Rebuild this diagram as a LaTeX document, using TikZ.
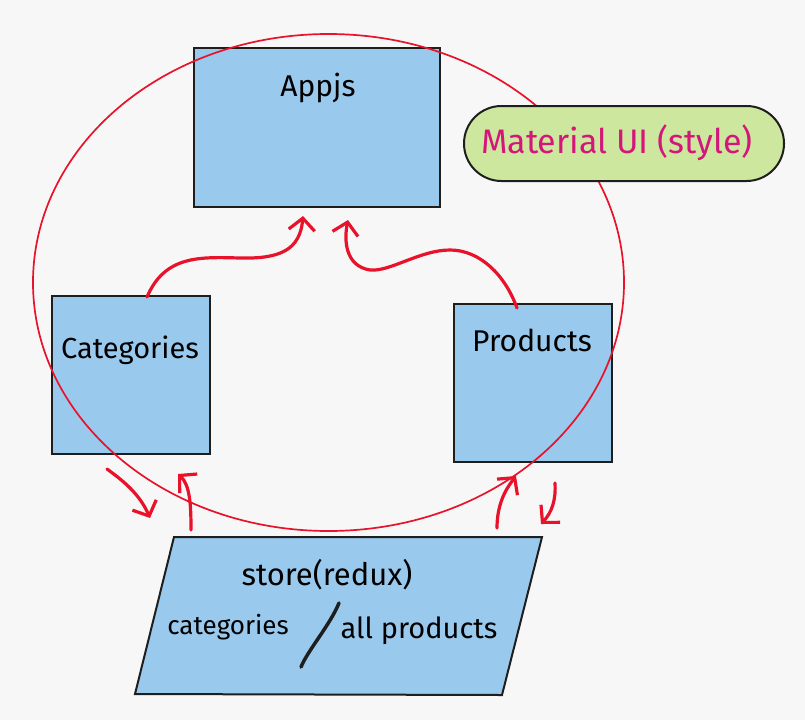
\documentclass[tikz,border=0pt]{standalone}
\usepackage{fontspec}
\setmainfont{Fira Sans}
\usetikzlibrary{arrows.meta,shapes.geometric,shapes.misc}
\definecolor{bg}{RGB}{247,247,247}
\definecolor{boxfill}{RGB}{154,201,238}
\definecolor{boxline}{RGB}{30,30,30}
\definecolor{redline}{RGB}{232,19,43}
\definecolor{pillfill}{RGB}{206,231,158}
\definecolor{magentatext}{RGB}{212,22,122}
\newcommand{\fsz}[1]{\fontsize{#1}{#1}\selectfont}
\tikzset{
  block/.style={draw=boxline, fill=boxfill, line width=2pt, rectangle, inner sep=0pt},
  lbl/.style={text=black, inner sep=0pt},
  flow/.style={draw=redline, line width=3.2pt, line cap=round,
    -{Straight Barb[length=12pt,width=26pt,line width=3.2pt]}},
}
\begin{document}
\begin{tikzpicture}[x=1pt,y=-1pt]
\useasboundingbox (0,0) rectangle (805,720);
\fill[bg] (0,0) rectangle (805,720);

% boxes
\node[block, minimum width=246pt, minimum height=159pt] (app) at (317,127.5) {};
\node[block, minimum width=158pt, minimum height=158pt] (cat) at (131,375) {};
\node[block, minimum width=158pt, minimum height=158pt] (prod) at (533,383) {};
\draw[draw=boxline, fill=boxfill, line width=2pt]
  (174,537) coordinate (s1) -- (542,537) coordinate (s2) -- (502,695) coordinate (s3) -- (135,694) coordinate (s4) -- cycle;

% big ellipse
\node[draw=redline, line width=1.7pt, ellipse, minimum width=591pt, minimum height=497pt, inner sep=0pt] (ring) at (328.5,282.5) {};

% pill
\node[draw=boxline, fill=pillfill, line width=2pt, rounded rectangle, minimum width=320pt, minimum height=75pt, inner sep=0pt] (mui) at (624,143.5) {};
\node[lbl, text=magentatext, font=\fsz{34}] (muit) at (617,143) {Material UI (style)};

% labels
\node[lbl, font=\fsz{30}] (appt) at (318,88) {Appjs};
\node[lbl, font=\fsz{29}] (catt) at (130,350) {Categories};
\node[lbl, font=\fsz{30}] (prodt) at (532,340) {Products};
\node[lbl, font=\fsz{31}] (storet) at (327,575) {store(redux)};
\node[lbl, font=\fsz{26}] (storecat) at (228,627) {categories};
\node[lbl, font=\fsz{29}] (storeprod) at (419,631) {all products};
\coordinate (slA) at (301,667);
\coordinate (slB) at (339,603);
\draw[boxline, line width=3.5pt, line cap=round] (slA) .. controls (308,650) and (330,625) .. (slB);

% arrow end points
\coordinate (a1s) at (147,297);
\coordinate (a1e) at (303,216);
\coordinate (a2s) at (517,308);
\coordinate (a2e) at (348,220);
\coordinate (a3s) at (107,469);
\coordinate (a3e) at (150,518);
\coordinate (a4s) at (191,530);
\coordinate (a4e) at (178,474);
\coordinate (a5s) at (497,528);
\coordinate (a5e) at (516,476);
\coordinate (a6s) at (555,483);
\coordinate (a6e) at (541,524);

\draw[flow] (a1s) .. controls (165,255) and (200,257) .. (240,258)
  .. controls (280,259) and (300,250) .. (a1e);
\draw[flow] (a2s) .. controls (505,275) and (480,250) .. (450,250)
  .. controls (420,250) and (390,272) .. (370,270)
  .. controls (345,266) and (344,240) .. (a2e);
\draw[flow] (a3s) .. controls (125,482) and (140,495) .. (a3e);
\draw[flow] (a4s) .. controls (191,505) and (190,485) .. (a4e);
\draw[flow] (a5s) .. controls (497,505) and (505,490) .. (a5e);
\draw[flow] (a6s) .. controls (556,500) and (552,512) .. (a6e);
\end{tikzpicture}
\end{document}
